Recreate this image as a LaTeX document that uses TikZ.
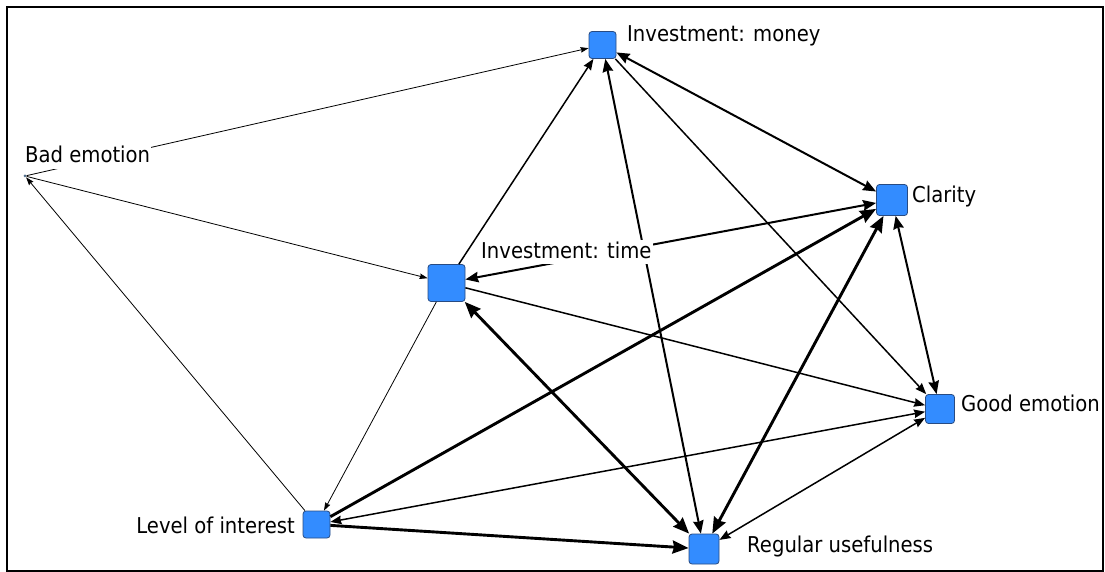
\documentclass[tikz,border=0pt]{standalone}
\usepackage{fontspec}
\setmainfont{DejaVu Sans}[FakeStretch=0.9]
\usetikzlibrary{arrows.meta}

\definecolor{nodefill}{RGB}{51,140,255}
\definecolor{nodeedge}{RGB}{40,75,130}

\tikzset{
  sq/.style={rectangle, rounded corners=3pt, fill=nodefill, draw=nodeedge,
             line width=0.8pt, inner sep=0pt},
  dotnode/.style={circle, fill={rgb,255:red,80;green,110;blue,140}, inner sep=0pt,
             minimum size=3pt},
  lbl/.style={fill=white, inner sep=1pt, text height=17pt, text depth=5pt,
             font=\fontsize{21.8pt}{24pt}\selectfont},
  w1/.style={line width=0.8pt, >={Stealth[length=8pt,width=5.5pt,inset=0.8pt]}},
  w2/.style={line width=1.5pt, >={Stealth[length=11pt,width=8.5pt,inset=1pt]}},
  w3/.style={line width=2pt, >={Stealth[length=13pt,width=10.5pt,inset=1.2pt]}},
  w4/.style={line width=2.9pt, >={Stealth[length=16pt,width=13pt,inset=1.5pt]}},
}

\begin{document}
\begin{tikzpicture}[x=1pt,y=-1pt]
\useasboundingbox (0,0) rectangle (1105,572);
\fill[white] (0,0) rectangle (1105,572);
\draw[line width=2pt] (7,7) rectangle (1103,571);

% vertices
\node[sq, minimum size=27pt] (money) at (602.5,45) {};
\node[sq, minimum size=37pt] (time)  at (446.5,283) {};
\node[sq, minimum size=31pt] (clar)  at (892,200) {};
\node[sq, minimum size=29pt] (good)  at (940,409) {};
\node[sq, minimum size=27pt] (level) at (316.5,524.5) {};
\node[sq, minimum size=30pt] (reg)   at (704,549) {};
\node[dotnode] (bad) at (25,176) {};

% ties, weighted by strength
\draw[w1,->] (bad) -- (money);
\draw[w1,->] (bad) -- (time);
\draw[w1,->] (level) -- (bad);
\draw[w1,->] (time) -- (level);

\draw[w2,->] (time) -- (money);
\draw[w2,->] (time) -- (good);
\draw[w2,->] (money) -- (good);
\draw[w2,<->] (good) -- (level);
\draw[w2,<->] (good) -- (reg);

\draw[w3,<->] (money) -- (reg);
\draw[w3,<->] (money) -- (clar);
\draw[w3,<->] (clar) -- (time);
\draw[w3,<->] (clar) -- (good);

\draw[w4,->] (level) -- (reg);
\draw[w4,->] (level) -- (clar);
\draw[w4,<->] (time) -- (reg);
\draw[w4,<->] (reg) -- (clar);

% vertex labels
\node[lbl, anchor=base west] (lmoney) at (626,41.5) {Investment: money};
\node[lbl, anchor=base west] (lbad)   at (24,163)   {Bad emotion};
\node[lbl, anchor=base west] (ltime)  at (480,258)  {Investment: time};
\node[lbl, anchor=base west] (lclar)  at (911,203)  {Clarity};
\node[lbl, anchor=base west] (lgood)  at (960,411)  {Good emotion};
\node[lbl, anchor=base east] (llevel) at (296,533)  {Level of interest};
\node[lbl, anchor=base west] (lreg)   at (746,552)  {Regular usefulness};
\end{tikzpicture}
\end{document}
